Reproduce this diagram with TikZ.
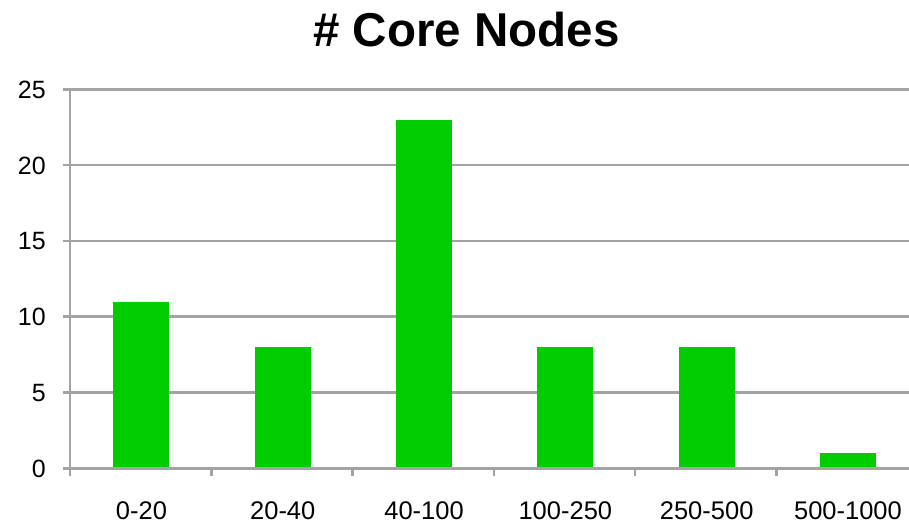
\documentclass[tikz,border=0pt]{standalone}
\usepackage{fontspec}
\setmainfont{Liberation Sans}
\definecolor{gridgray}{RGB}{163,163,163}
\definecolor{bargreen}{RGB}{0,204,0}
\begin{document}
\begin{tikzpicture}[x=1pt,y=-1pt,
  gridline/.style={draw=gridgray,line width=2.5pt},
  barfill/.style={fill=bargreen},
  ticklabel/.style={font=\fontsize{25}{30}\selectfont,anchor=base east,inner sep=0pt},
  catlabel/.style={font=\fontsize{25.5}{30}\selectfont,anchor=base,inner sep=0pt},
  titlelabel/.style={font=\bfseries\fontsize{47.5}{56}\selectfont,anchor=base,inner sep=0pt}]
\useasboundingbox (0,0) rectangle (909,523);
\pgfmathsetmacro{\xo}{70}
\pgfmathsetmacro{\yo}{468.3}
\pgfmathsetmacro{\uy}{15.16}
\pgfmathsetmacro{\cw}{141.3}
% title
\node[titlelabel] (title) at (466.5,46) {\# Core Nodes};
% gridlines and y labels
\foreach \v in {0,5,10,15,20,25}{
  \pgfmathsetmacro{\yy}{\yo-\v*\uy}
  \draw[gridline] (63,\yy) -- (909,\yy);
  \node[ticklabel] (yl\v) at (46,\yy+9) {\v};
}
% bars
\foreach \i/\h in {0/11,1/8,2/23,3/8,4/8,5/1}{
  \pgfmathsetmacro{\cx}{\xo+\cw*(\i+0.5)+0.8}
  \fill[barfill] (\cx-28,\yo) rectangle (\cx+28,\yo-\h*\uy);
}
% axes
\draw[gridline] (63,\yo) -- (909,\yo);
\draw[gridline] (\xo,89-1.2) -- (\xo,476);
\foreach \k in {1,...,5}{
  \draw[gridline] (\xo+\cw*\k,\yo) -- (\xo+\cw*\k,476);
}
% category labels
\foreach \i/\t in {0/0-20,1/20-40,2/40-100,3/100-250,4/250-500,5/500-1000}{
  \pgfmathsetmacro{\cx}{\xo+\cw*(\i+0.5)+0.8}
  \node[catlabel] (c\i) at (\cx,519) {\t};
}
\end{tikzpicture}
\end{document}
